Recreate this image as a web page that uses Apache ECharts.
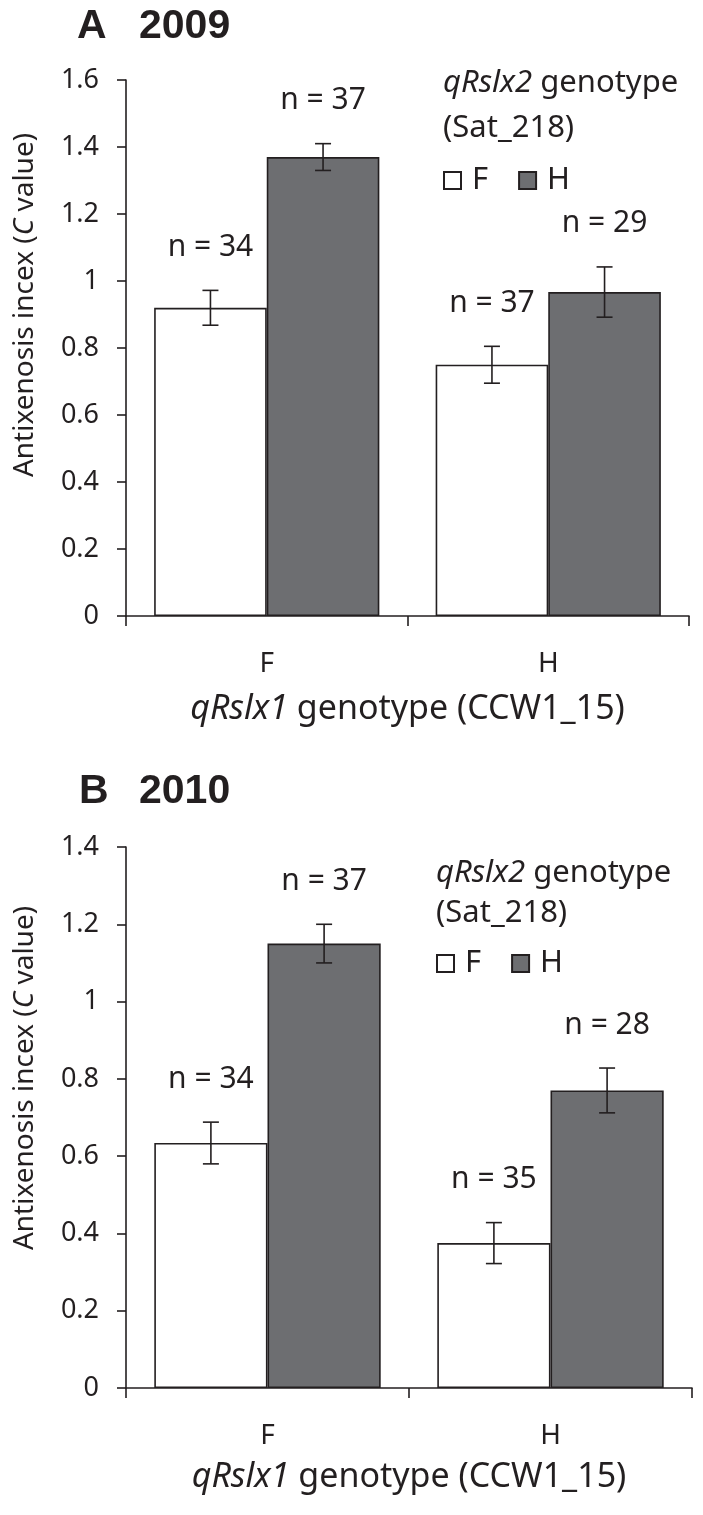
<!DOCTYPE html>
<html>
<head>
<meta charset="utf-8">
<script src="https://cdn.jsdelivr.net/npm/echarts@6/dist/echarts.min.js"></script>
<style>
  html, body { margin: 0; padding: 0; background: #fff; }
  #main { width: 703px; height: 1515px; }
</style>
</head>
<body>
<div id="main"></div>
<script>
// genotype groups on the x axis (qRslx1)
var groups = ['F', 'H'];

// 2009 (panel A)
var meanA_F = [0.92, 0.75];
var errA_F = [0.052, 0.055];
var nA_F = [34, 37];
var meanA_H = [1.37, 0.967];
var errA_H = [0.04, 0.075];
var nA_H = [37, 29];

// 2010 (panel B)
var meanB_F = [0.634, 0.375];
var errB_F = [0.054, 0.053];
var nB_F = [34, 35];
var meanB_H = [1.15, 0.77];
var errB_H = [0.05, 0.058];
var nB_H = [37, 28];

var ink = '#231f20';
var darkFill = '#6d6e71';
var font = '"Noto Sans", "Open Sans", sans-serif';

var chart = echarts.init(document.getElementById('main'));

// error bar + "n = .." label, shifted to the bar of one series in the group
function errSeries(grid, means, errs, ns, shift) {
  var rows = means.map(function (m, i) { return [i, m, errs[i], ns[i]]; });
  return {
    type: 'custom',
    xAxisIndex: grid, yAxisIndex: grid,
    z: 5,
    silent: true,
    encode: { x: 0, y: 1 },
    data: rows,
    renderItem: function (params, api) {
      var band = api.size([1, 0])[0];
      var m = api.value(1), e = api.value(2);
      var top = api.coord([api.value(0), m + e]);
      var bot = api.coord([api.value(0), m - e]);
      var x = top[0] + shift * band;
      var cap = 8;
      var st = { stroke: ink, lineWidth: 1.6 };
      return {
        type: 'group',
        children: [
          { type: 'line', shape: { x1: x, y1: top[1], x2: x, y2: bot[1] }, style: st },
          { type: 'line', shape: { x1: x - cap, y1: top[1], x2: x + cap, y2: top[1] }, style: st },
          { type: 'line', shape: { x1: x - cap, y1: bot[1], x2: x + cap, y2: bot[1] }, style: st },
          { type: 'text', style: {
              text: 'n = ' + api.value(3), x: x, y: top[1] - 43,
              align: 'center', verticalAlign: 'middle',
              textAlign: 'center', textVerticalAlign: 'middle',
              fontSize: 30, fontFamily: font, fill: ink } }
        ]
      };
    }
  };
}

function barSeries(grid, name, means, fill) {
  return {
    name: name,
    type: 'bar',
    xAxisIndex: grid, yAxisIndex: grid,
    barGap: '0%',
    barCategoryGap: '20%',
    data: means,
    itemStyle: { color: fill, borderColor: ink, borderWidth: 1.6 },
    silent: true
  };
}

function xAxisOf(grid, gap) {
  return {
    type: 'category', gridIndex: grid, data: groups,
    boundaryGap: true,
    axisLine: { lineStyle: { color: ink, width: 1.6 } },
    axisTick: { show: true, alignWithLabel: false, length: 10, lineStyle: { color: ink, width: 1.6 } },
    axisLabel: { color: ink, fontSize: 28, fontFamily: font, margin: 34 },
    name: '{i|qRslx1} genotype (CCW1_15)',
    nameLocation: 'middle',
    nameGap: gap,
    nameTextStyle: {
      color: ink, fontSize: 34, fontFamily: font,
      rich: { i: { fontStyle: 'italic', fontSize: 34, fontFamily: font, color: ink } }
    }
  };
}

function yAxisOf(grid, max) {
  return {
    type: 'value', gridIndex: grid, min: 0, max: max, interval: 0.2,
    axisLine: { show: true, lineStyle: { color: ink, width: 1.6 } },
    axisTick: { show: true, length: 9, lineStyle: { color: ink, width: 1.6 } },
    splitLine: { show: false },
    axisLabel: { color: ink, fontSize: 27, fontFamily: font, margin: 27 }
  };
}

function txt(x, y, text, size, extra) {
  var s = {
    text: text, x: 0, y: 0, fontSize: size, fontFamily: font, fill: ink,
    align: 'left', verticalAlign: 'middle', textAlign: 'left', textVerticalAlign: 'middle'
  };
  for (var k in extra) s[k] = extra[k];
  return { type: 'text', x: x, y: y, style: s };
}

var richI = { i: { fontStyle: 'italic', fontSize: 31, fontFamily: font, fill: ink, color: ink } };
var richY = { i: { fontStyle: 'italic', fontSize: 28, fontFamily: font, fill: ink, color: ink } };
var boldFont = '"Liberation Sans", Arial, sans-serif';

var option = {
  animation: false,
  grid: [
    { left: 126, top: 80, width: 563, height: 536 },
    { left: 126, top: 847, width: 566, height: 541 }
  ],
  xAxis: [xAxisOf(0, 76), xAxisOf(1, 72)],
  yAxis: [yAxisOf(0, 1.6), yAxisOf(1, 1.4)],
  legend: [
    { data: ['F', 'H'], left: 443, top: 165, padding: 0, icon: 'rect', itemWidth: 17, itemHeight: 17,
      itemGap: 30, selectedMode: false,
      textStyle: { color: ink, fontSize: 31, fontFamily: font, padding: [0, 0, 0, 6] } },
    { data: ['F', 'H'], left: 436, top: 948, padding: 0, icon: 'rect', itemWidth: 17, itemHeight: 17,
      itemGap: 30, selectedMode: false,
      textStyle: { color: ink, fontSize: 31, fontFamily: font, padding: [0, 0, 0, 6] } }
  ],
  graphic: [
    txt(77, 27, 'A', 41, { fontWeight: 'bold', fontFamily: boldFont }),
    txt(139, 27, '2009', 41, { fontWeight: 'bold', fontFamily: boldFont }),
    txt(79, 792, 'B', 41, { fontWeight: 'bold', fontFamily: boldFont }),
    txt(139, 792, '2010', 41, { fontWeight: 'bold', fontFamily: boldFont }),
    txt(443, 83, '{i|qRslx2} genotype', 31, { rich: richI }),
    txt(443, 128, '(Sat_218)', 31, {}),
    txt(436, 873, '{i|qRslx2} genotype', 31, { rich: richI }),
    txt(436, 913, '(Sat_218)', 31, {}),
    {
      type: 'text', x: 25, y: 305, rotation: Math.PI / 2,
      style: { text: 'Antixenosis incex ({i|C} value)', x: 0, y: 0, fontSize: 28, fontFamily: font, fill: ink,
        rich: richY, align: 'center', verticalAlign: 'middle', textAlign: 'center', textVerticalAlign: 'middle' }
    },
    {
      type: 'text', x: 25, y: 1078, rotation: Math.PI / 2,
      style: { text: 'Antixenosis incex ({i|C} value)', x: 0, y: 0, fontSize: 28, fontFamily: font, fill: ink,
        rich: richY, align: 'center', verticalAlign: 'middle', textAlign: 'center', textVerticalAlign: 'middle' }
    }
  ],
  series: [
    barSeries(0, 'F', meanA_F, '#ffffff'),
    barSeries(0, 'H', meanA_H, darkFill),
    errSeries(0, meanA_F, errA_F, nA_F, -0.2),
    errSeries(0, meanA_H, errA_H, nA_H, 0.2),
    barSeries(1, 'F', meanB_F, '#ffffff'),
    barSeries(1, 'H', meanB_H, darkFill),
    errSeries(1, meanB_F, errB_F, nB_F, -0.2),
    errSeries(1, meanB_H, errB_H, nB_H, 0.2)
  ]
};

chart.setOption(option);
</script>
</body>
</html>
